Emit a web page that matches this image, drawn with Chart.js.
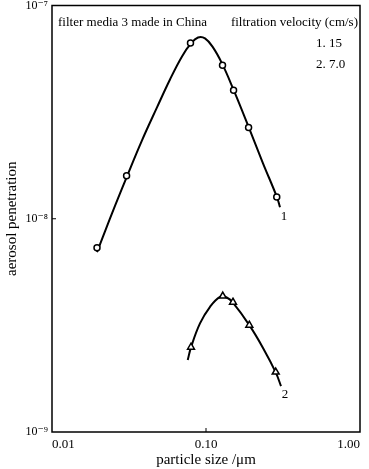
<!DOCTYPE html>
<html>
<head>
<meta charset="utf-8">
<script src="https://cdn.jsdelivr.net/npm/chart.js@4/dist/chart.umd.min.js"></script>
<style>
  html, body { margin: 0; padding: 0; background: #fff; }
  #wrap { width: 369px; height: 469px; }
</style>
</head>
<body>
<div id="wrap"><canvas id="chart"></canvas></div>
<script>
// measured points, filtration velocity 15 cm/s (circles) and 7.0 cm/s (triangles)
const sizes1 = [0.0196, 0.0305, 0.0793, 0.128, 0.151, 0.189, 0.288]
const penetration1 = [7.31e-9, 1.59e-8, 6.67e-8, 5.25e-8, 4.0e-8, 2.68e-8, 1.265e-8]
const sizes2 = [0.0799, 0.1285, 0.1497, 0.1911, 0.2836]
const penetration2 = [2.50e-9, 4.34e-9, 4.06e-9, 3.17e-9, 1.91e-9]

// fitted curves
const curve1X = [0.0196, 0.02453, 0.03069, 0.03841, 0.04806, 0.05837, 0.06985, 0.07989, 0.08873, 0.09852, 0.111, 0.127, 0.1497, 0.1874, 0.2345, 0.2891, 0.3023]
const curve1Y = [6.97e-9, 1.061e-8, 1.582e-8, 2.332e-8, 3.328e-8, 4.5e-8, 5.77e-8, 6.637e-8, 7.08e-8, 7.01e-8, 6.36e-8, 5.35e-8, 4.085e-8, 2.741e-8, 1.82e-8, 1.261e-8, 1.132e-8]
const curve2X = [0.0761, 0.0799, 0.0914, 0.1062, 0.1233, 0.1363, 0.1491, 0.1911, 0.2355, 0.2836, 0.3069]
const curve2Y = [2.174e-9, 2.493e-9, 3.229e-9, 3.863e-9, 4.302e-9, 4.274e-9, 4.05e-9, 3.17e-9, 2.466e-9, 1.904e-9, 1.642e-9]

const xTicks = [0.01, 0.1, 1]
const xTickLabels = ['0.01', '0.10', '1.00']
const yTicks = [1e-9, 1e-8, 1e-7]
const yTickLabels = ['10⁻⁹', '10⁻⁸', '10⁻⁷']

const SERIF = '"Liberation Serif", "DejaVu Serif", serif'
const toPoints = (xs, ys) => xs.map((x, i) => ({ x, y: ys[i] }))

const framePlugin = {
  id: 'frame',
  afterDraw(chart) {
    const { ctx, chartArea: a, scales } = chart
    ctx.save()
    ctx.strokeStyle = '#000'
    ctx.lineWidth = 1.5
    ctx.strokeRect(a.left, a.top, a.right - a.left, a.bottom - a.top)

    // small inner ticks at the middle decades
    const xm = scales.x.getPixelForValue(0.1)
    const ym = scales.y.getPixelForValue(1e-8)
    ctx.lineWidth = 1
    ctx.beginPath()
    ctx.moveTo(xm, a.bottom)
    ctx.lineTo(xm, a.bottom - 4)
    ctx.moveTo(a.left, ym)
    ctx.lineTo(a.left + 4, ym)
    ctx.stroke()

    ctx.fillStyle = '#000'
    ctx.textBaseline = 'middle'
    ctx.font = '13px ' + SERIF
    ctx.textAlign = 'left'
    ctx.fillText('filter media 3 made in China', a.left + 6, a.top + 17)
    ctx.textAlign = 'right'
    ctx.fillText('filtration velocity (cm/s)', a.right - 2, a.top + 17)
    ctx.textAlign = 'left'
    ctx.fillText('1. 15', a.right - 44, a.top + 38)
    ctx.fillText('2. 7.0', a.right - 44, a.top + 59)

    // curve numbers next to curve ends
    const n = curve1X.length - 1
    const m = curve2X.length - 1
    ctx.textAlign = 'center'
    ctx.fillText('1', scales.x.getPixelForValue(curve1X[n]) + 4, scales.y.getPixelForValue(curve1Y[n]) + 9)
    ctx.fillText('2', scales.x.getPixelForValue(curve2X[m]) + 4, scales.y.getPixelForValue(curve2Y[m]) + 9)
    ctx.restore()
  }
}

new Chart(document.getElementById('chart'), {
  type: 'scatter',
  data: {
    datasets: [
      {
        data: toPoints(sizes1, penetration1),
        pointStyle: 'circle',
        pointRadius: 3,
        pointBorderWidth: 1.5,
        borderColor: '#000',
        backgroundColor: '#fff',
        order: 0
      },
      {
        data: toPoints(sizes2, penetration2),
        pointStyle: 'triangle',
        pointRadius: 4,
        pointBorderWidth: 1.5,
        borderColor: '#000',
        backgroundColor: '#fff',
        order: 0
      },
      {
        data: toPoints(curve1X, curve1Y),
        showLine: true,
        pointRadius: 0,
        borderWidth: 2,
        borderColor: '#000',
        tension: 0.4,
        order: 1
      },
      {
        data: toPoints(curve2X, curve2Y),
        showLine: true,
        pointRadius: 0,
        borderWidth: 2,
        borderColor: '#000',
        tension: 0.4,
        order: 1
      }
    ]
  },
  options: {
    responsive: true,
    maintainAspectRatio: false,
    animation: false,
    layout: { padding: { top: 5, right: 9, left: 0, bottom: 0 } },
    plugins: {
      legend: { display: false },
      tooltip: { enabled: false }
    },
    scales: {
      x: {
        type: 'logarithmic',
        min: 0.01,
        max: 1,
        afterBuildTicks: s => { s.ticks = xTicks.map(v => ({ value: v })) },
        afterFit: s => { s.height = 37; s.paddingLeft = 0; s.paddingRight = 0 },
        grid: { display: false, drawTicks: false },
        border: { display: false },
        ticks: {
          autoSkip: false,
          maxRotation: 0,
          align: 'inner',
          padding: 5,
          color: '#000',
          font: { family: SERIF, size: 13 },
          callback: (v, i) => xTickLabels[i]
        },
        title: {
          display: true,
          text: 'particle size /μm',
          color: '#000',
          font: { family: SERIF, size: 15 },
          padding: 0
        }
      },
      y: {
        type: 'logarithmic',
        min: 1e-9,
        max: 1e-7,
        afterBuildTicks: s => { s.ticks = yTicks.map(v => ({ value: v })) },
        afterFit: s => { s.width = 52; s.paddingTop = 0; s.paddingBottom = 0 },
        grid: { display: false, drawTicks: false },
        border: { display: false },
        ticks: {
          autoSkip: false,
          padding: 4,
          color: '#000',
          font: { family: SERIF, size: 12 },
          callback: (v, i) => yTickLabels[i]
        },
        title: {
          display: true,
          text: 'aerosol penetration',
          color: '#000',
          font: { family: SERIF, size: 15 },
          padding: { top: 3, bottom: 0 }
        }
      }
    }
  },
  plugins: [framePlugin]
})
</script>
</body>
</html>
